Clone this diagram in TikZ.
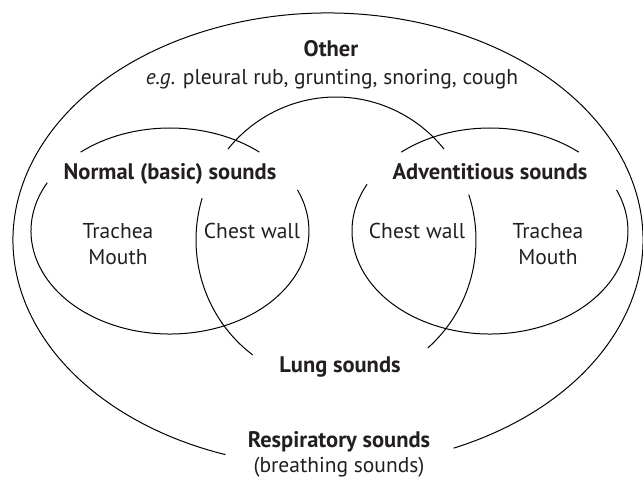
\documentclass[tikz,border=0pt]{standalone}
\usepackage{fontspec}
\setmainfont{PT Sans}
\definecolor{txt}{HTML}{231F20}
\begin{document}
\begin{tikzpicture}[x=1pt,y=1pt,line width=1pt,
  lbl/.style={anchor=base,inner sep=0pt,text=txt,font=\fontsize{21.5}{24}\selectfont},
  hdr/.style={lbl,font=\fontsize{22.5}{25}\selectfont\bfseries}]
\useasboundingbox (0,0) rectangle (643,479);
% outer: respiratory sounds
\draw (328,239) ++(-66.5:315 and 227) arc[start angle=-66.5,end angle=251,x radius=315,y radius=227];
% left: normal sounds
\draw (170,248) ++(50:139 and 103) arc[start angle=50,end angle=130,x radius=139,y radius=103];
\draw (170,248) ++(152:139 and 103) arc[start angle=152,end angle=383.5,x radius=139,y radius=103];
% right: adventitious sounds
\draw (490,248) ++(50:138 and 103) arc[start angle=50,end angle=130,x radius=138,y radius=103];
\draw (490,248) ++(153:138 and 103) arc[start angle=153,end angle=383.5,x radius=138,y radius=103];
% middle: lung sounds
\draw (336,239) ++(39.5:140 and 143) arc[start angle=39.5,end angle=140.5,x radius=140,y radius=143];
\draw (336,239) ++(163:140 and 143) arc[start angle=163,end angle=233.5,x radius=140,y radius=143];
\draw (336,239) ++(-49:140 and 143) arc[start angle=-49,end angle=18.5,x radius=140,y radius=143];
% texts
\node[hdr] (other) at (331,422) {Other};
\node[lbl] (eg) at (332,394) {\textit{e.g}. pleural rub, grunting, snoring, cough};
\node[hdr] (normal) at (170,299) {Normal (basic) sounds};
\node[hdr] (advent) at (490,299) {Adventitious sounds};
\node[lbl] (trL) at (118,240) {Trachea};
\node[lbl] (moL) at (118,214) {Mouth};
\node[lbl] (cwL) at (252,240) {Chest wall};
\node[lbl] (cwR) at (417,240) {Chest wall};
\node[lbl] (trR) at (548,240) {Trachea};
\node[lbl] (moR) at (548,214) {Mouth};
\node[hdr] (lung) at (340,106) {Lung sounds};
\node[hdr] (resp) at (339,31) {Respiratory sounds};
\node[lbl] (breath) at (339,6.5) {(breathing sounds)};
\end{tikzpicture}
\end{document}
